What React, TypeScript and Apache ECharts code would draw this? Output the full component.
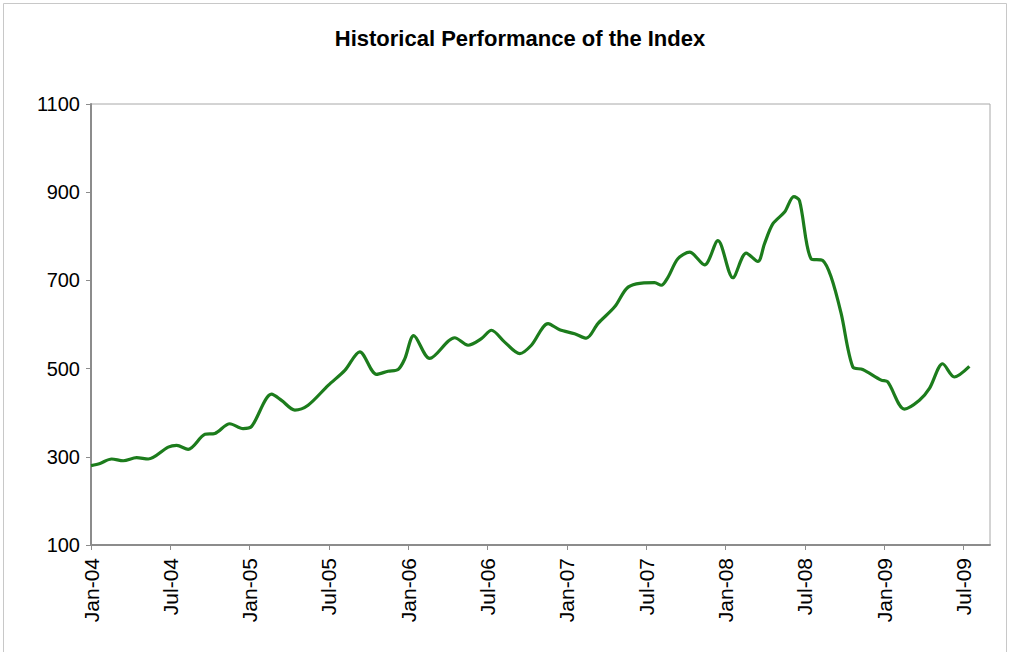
import React, { useEffect, useRef } from "react";
import * as echarts from "echarts";

const chartTitle = "Historical Performance of the Index";

// x position in months since Jan-04 (fractional)
const monthPos = [
  0, 0.68, 1.56, 2.44, 3.45, 4.33, 5.84, 6.48, 7.35, 8.62, 9.37, 10.5, 11.5, 12.15,
  13.66, 14.41, 15.42, 16.42, 17.94, 19.2, 20.33, 21.6, 22.47, 23.23, 23.73, 24.41,
  25.62, 27.51, 28.52, 29.53, 30.29, 31.29, 32.43, 33.31, 34.57, 35.45, 36.58, 37.47,
  38.34, 39.61, 40.49, 41.25, 42.63, 43.14, 43.64, 44.39, 45.28, 46.41, 47.42, 48.55,
  49.56, 50.44, 50.94, 51.57, 52.46, 53.16, 53.59, 54.47, 55.35, 55.99, 56.74, 57.62,
  58.37, 59.77, 60.26, 61.53, 62.66, 63.42, 64.42, 65.3, 66.44,
];

const indexValues = [
  280, 285, 295, 291, 298, 295, 322, 326, 317, 351, 353, 375, 364, 369,
  442, 428, 406, 417, 462, 496, 538, 487, 494, 498, 522, 575,
  523, 570, 553, 568, 587, 560, 534, 553, 602, 588, 579, 569,
  602, 640, 681, 692, 695, 689, 707, 749, 764, 735, 790, 706,
  762, 743, 783, 828, 855, 890, 881, 749, 745, 707, 625, 504,
  498, 474, 470, 408, 428, 455, 511, 481, 505,
];

const tickMonths = [0, 6, 12, 18, 24, 30, 36, 42, 48, 54, 60, 66];
const tickLabels = [
  "Jan-04", "Jul-04", "Jan-05", "Jul-05", "Jan-06", "Jul-06",
  "Jan-07", "Jul-07", "Jan-08", "Jul-08", "Jan-09", "Jul-09",
];

const yTicks = [100, 300, 500, 700, 900, 1100];

export default function App() {
  const ref = useRef<HTMLDivElement>(null);

  useEffect(() => {
    if (!ref.current) return;
    const chart = echarts.init(ref.current, null, { renderer: "svg" });
    const seriesData = monthPos.map((m, i) => [m, indexValues[i]]);
    chart.setOption({
      animation: false,
      backgroundColor: "#ffffff",
      textStyle: { fontFamily: "Liberation Sans, Arial, sans-serif" },
      title: {
        text: chartTitle,
        left: 515,
        top: 22,
        textAlign: "center",
        textStyle: {
          fontFamily: "Liberation Sans, Arial, sans-serif",
          fontWeight: "bold",
          fontSize: 22,
          color: "#000000",
        },
      },
      graphic: [
        {
          type: "polyline",
          shape: { points: [[3.5, 660], [3.5, 3.5], [1006.5, 3.5], [1006.5, 660]] },
          style: { stroke: "#c8c8c8", lineWidth: 1, fill: null },
          silent: true,
        },
      ],
      grid: {
        left: 91,
        right: 20,
        top: 104,
        bottom: 107,
        show: true,
        borderColor: "#a8a8a8",
        borderWidth: 1,
        backgroundColor: "#ffffff",
      },
      xAxis: {
        type: "value",
        min: 0,
        max: 68,
        interval: 6,
        splitLine: { show: false },
        axisLine: { show: true, lineStyle: { color: "#8c8c8c", width: 2 } },
        axisTick: {
          show: true,
          length: 5,
          customValues: tickMonths,
          lineStyle: { color: "#8c8c8c", width: 1 },
        },
        axisLabel: {
          rotate: 90,
          margin: 13,
          fontSize: 21,
          padding: [10, 0, 0, 0],
          color: "#000000",
          fontFamily: "Liberation Sans, Arial, sans-serif",
          customValues: tickMonths,
          formatter: (v: number) => {
            const i = tickMonths.indexOf(Math.round(v));
            return i >= 0 ? tickLabels[i] : "";
          },
        },
      },
      yAxis: {
        type: "value",
        min: 100,
        max: 1100,
        interval: 200,
        splitLine: { show: false },
        axisLine: { show: true, lineStyle: { color: "#8c8c8c", width: 2 } },
        axisTick: {
          show: true,
          length: 5,
          customValues: yTicks,
          lineStyle: { color: "#8c8c8c", width: 1 },
        },
        axisLabel: {
          margin: 11,
          fontSize: 20,
          color: "#000000",
          fontFamily: "Liberation Sans, Arial, sans-serif",
          customValues: yTicks,
          formatter: (v: number) => String(v),
        },
      },
      series: [
        {
          type: "line",
          data: seriesData,
          smooth: 0.3,
          showSymbol: false,
          symbol: "none",
          lineStyle: { color: "#1c7c1c", width: 3.2 },
          itemStyle: { color: "#1c7c1c" },
        },
      ],
    });
    return () => chart.dispose();
  }, []);

  return (
    <div
      ref={ref}
      style={{ position: "absolute", left: 0, top: 0, width: 1010, height: 652 }}
    />
  );
}
